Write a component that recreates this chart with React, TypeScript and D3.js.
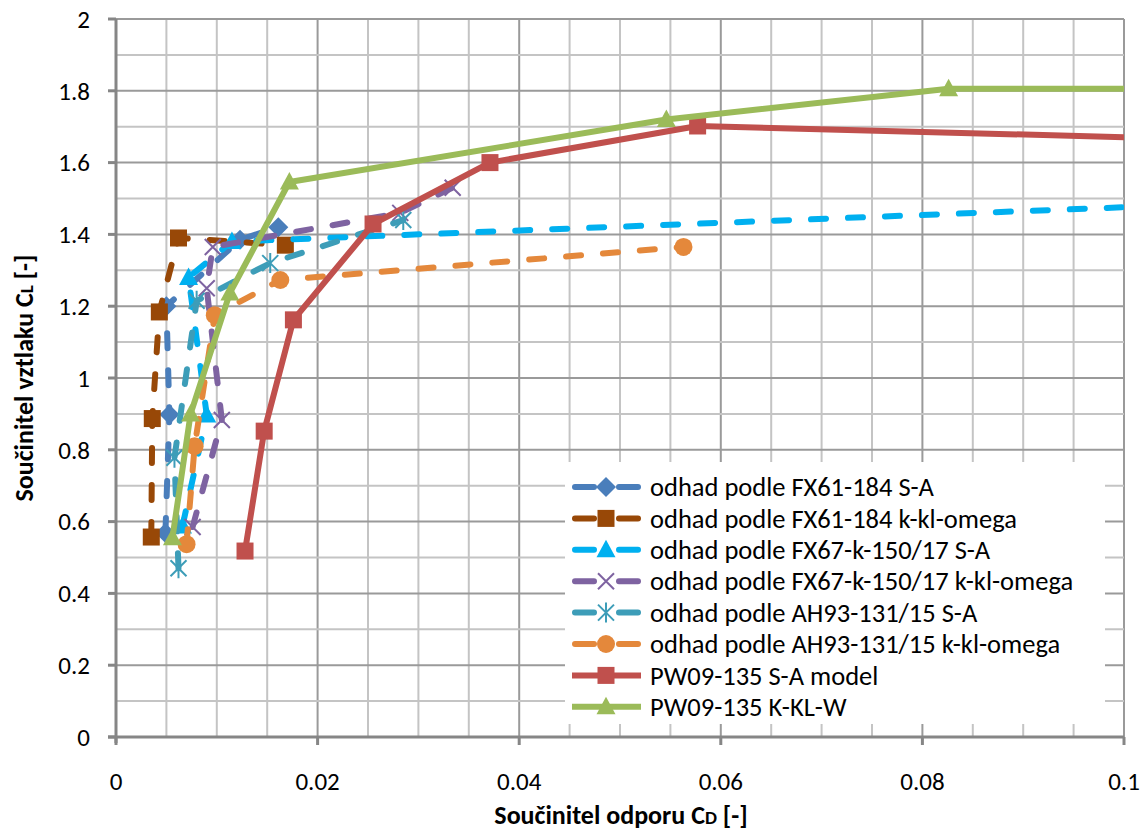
import React from "react";
import * as d3 from "d3";

// ---- data (C_D, C_L) ----
const fx61SA_cd = [0.0049, 0.0053, 0.005, 0.0123, 0.0161];
const fx61SA_cl = [0.568, 0.898, 1.2, 1.385, 1.42];

const fx61KKL_cd = [0.0035, 0.0036, 0.0043, 0.0062, 0.0168];
const fx61KKL_cl = [0.557, 0.887, 1.184, 1.39, 1.37];

const fx67SA_cd = [0.0066, 0.009, 0.0072, 0.0115, 0.104];
const fx67SA_cl = [0.588, 0.897, 1.28, 1.38, 1.48];

const fx67KKL_cd = [0.0076, 0.0105, 0.009, 0.0096, 0.0282, 0.0334];
const fx67KKL_cl = [0.585, 0.883, 1.25, 1.365, 1.46, 1.53];

const ah93SA_cd = [0.0062, 0.0058, 0.008, 0.0153, 0.0285];
const ah93SA_cl = [0.47, 0.778, 1.215, 1.32, 1.44];

const ah93KKL_cd = [0.007, 0.0078, 0.0098, 0.0163, 0.0563];
const ah93KKL_cl = [0.537, 0.81, 1.175, 1.273, 1.365];

const pwSA_cd = [0.0128, 0.0147, 0.0176, 0.0255, 0.0371, 0.0577, 0.105];
const pwSA_cl = [0.518, 0.852, 1.162, 1.429, 1.6, 1.702, 1.667];

const pwKKLW_cd = [0.0056, 0.0074, 0.0113, 0.0172, 0.0546, 0.0826, 0.11];
const pwKKLW_cl = [0.555, 0.9, 1.237, 1.546, 1.72, 1.806, 1.806];

const xTicks = [0, 0.02, 0.04, 0.06, 0.08, 0.1];
const xTickLabels = ["0", "0.02", "0.04", "0.06", "0.08", "0.1"];
const yTicks = [0, 0.2, 0.4, 0.6, 0.8, 1, 1.2, 1.4, 1.6, 1.8, 2];
const yTickLabels = ["0", "0.2", "0.4", "0.6", "0.8", "1", "1.2", "1.4", "1.6", "1.8", "2"];

type Marker = "diamond" | "square" | "triangle" | "x" | "star" | "circle";
interface Series {
  name: string;
  cd: number[];
  cl: number[];
  color: string;
  dashed: boolean;
  marker: Marker;
}

const series: Series[] = [
  { name: "odhad podle FX61-184 S-A", cd: fx61SA_cd, cl: fx61SA_cl, color: "#4A7EBB", dashed: true, marker: "diamond" },
  { name: "odhad podle FX61-184 k-kl-omega", cd: fx61KKL_cd, cl: fx61KKL_cl, color: "#984807", dashed: true, marker: "square" },
  { name: "odhad podle FX67-k-150/17 S-A", cd: fx67SA_cd, cl: fx67SA_cl, color: "#00B0F0", dashed: true, marker: "triangle" },
  { name: "odhad podle FX67-k-150/17 k-kl-omega", cd: fx67KKL_cd, cl: fx67KKL_cl, color: "#7E63A1", dashed: true, marker: "x" },
  { name: "odhad podle AH93-131/15 S-A", cd: ah93SA_cd, cl: ah93SA_cl, color: "#3D9DB8", dashed: true, marker: "star" },
  { name: "odhad podle AH93-131/15 k-kl-omega", cd: ah93KKL_cd, cl: ah93KKL_cl, color: "#E4883B", dashed: true, marker: "circle" },
  { name: "PW09-135 S-A model", cd: pwSA_cd, cl: pwSA_cl, color: "#C0504D", dashed: false, marker: "square" },
  { name: "PW09-135 K-KL-W", cd: pwKKLW_cd, cl: pwKKLW_cl, color: "#9BBB59", dashed: false, marker: "triangle" },
];

const FONT = "Carlito, Calibri, Lato, 'Open Sans', sans-serif";

function MarkerShape({ cx, cy, type, color }: { cx: number; cy: number; type: Marker; color: string }) {
  switch (type) {
    case "diamond":
      return <path d={`M${cx},${cy - 10}L${cx + 10},${cy}L${cx},${cy + 10}L${cx - 10},${cy}Z`} fill={color} />;
    case "square":
      return <rect x={cx - 8.5} y={cy - 8.5} width={17} height={17} fill={color} />;
    case "triangle":
      return <path d={`M${cx},${cy - 10}L${cx + 9.5},${cy + 7.5}L${cx - 9.5},${cy + 7.5}Z`} fill={color} />;
    case "circle":
      return <circle cx={cx} cy={cy} r={9} fill={color} />;
    case "x":
      return (
        <path d={`M${cx - 8},${cy - 8}L${cx + 8},${cy + 8}M${cx - 8},${cy + 8}L${cx + 8},${cy - 8}`} stroke={color} strokeWidth={2} fill="none" />
      );
    case "star":
      return (
        <path
          d={`M${cx - 8},${cy - 8}L${cx + 8},${cy + 8}M${cx - 8},${cy + 8}L${cx + 8},${cy - 8}M${cx},${cy - 10}L${cx},${cy + 10}`}
          stroke={color}
          strokeWidth={2}
          fill="none"
        />
      );
  }
  return null;
}

export default function App() {
  const W = 1147;
  const H = 832;
  const x = d3.scaleLinear().domain([0, 0.1]).range([116, 1124]);
  const y = d3.scaleLinear().domain([0, 2]).range([737, 19]);
  const line = d3
    .line<[number, number]>()
    .x((d) => x(d[0]))
    .y((d) => y(d[1]));

  const minorX = d3.range(0, 0.1001, 0.005);
  const minorY = d3.range(0, 2.001, 0.1);

  const legX = 572;
  const legY0 = 487;
  const legDy = 31.4;

  return (
    <div style={{ position: "absolute", left: 0, top: 0 }}>
      <svg width={W} height={H} style={{ display: "block", background: "#fff" }} fontFamily={FONT}>
        <defs>
          <clipPath id="plotClip">
            <rect x={x(0)} y={y(2) - 12} width={x(0.1) - x(0)} height={y(0) - y(2) + 12} />
          </clipPath>
        </defs>
        {/* grid */}
        {minorX.map((v, i) => (
          <line key={"mx" + i} x1={x(v)} x2={x(v)} y1={y(0)} y2={y(2)} stroke={i % 4 === 0 ? "#9A9A9A" : "#C4C4C4"} strokeWidth={2} />
        ))}
        {minorY.map((v, i) => (
          <line key={"my" + i} x1={x(0)} x2={x(0.1)} y1={y(v)} y2={y(v)} stroke={i % 2 === 0 ? "#9A9A9A" : "#C4C4C4"} strokeWidth={2} />
        ))}
        {/* axes */}
        <line x1={x(0)} x2={x(0)} y1={y(0) + 6} y2={y(2)} stroke="#868686" strokeWidth={3} />
        <line x1={x(0) - 8} x2={x(0.1)} y1={y(0)} y2={y(0)} stroke="#868686" strokeWidth={3} />
        {yTicks.map((v, i) => (
          <line key={"yt" + i} x1={x(0) - 8} x2={x(0)} y1={y(v)} y2={y(v)} stroke="#868686" strokeWidth={3} />
        ))}
        {xTicks.map((v, i) => (
          <line key={"xt" + i} x1={x(v)} x2={x(v)} y1={y(0)} y2={y(0) + 8} stroke="#868686" strokeWidth={3} />
        ))}
        {/* tick labels */}
        {yTicks.map((v, i) => (
          <text key={"yl" + i} x={90} y={y(v)} dy="0.35em" textAnchor="end" fontSize={25} fill="#000">
            {yTickLabels[i]}
          </text>
        ))}
        {xTicks.map((v, i) => (
          <text key={"xl" + i} x={x(v)} y={781} dy="0.35em" textAnchor="middle" fontSize={25} fill="#000">
            {xTickLabels[i]}
          </text>
        ))}
        {/* axis titles */}
        <text x={621} y={815} dy="0.35em" textAnchor="middle" fontSize={26} fontWeight="bold" fill="#000">
          Součinitel odporu C<tspan fontSize={19}>D</tspan> [-]
        </text>
        <text
          transform={`translate(24,378) rotate(-90)`}
          dy="0.35em"
          textAnchor="middle"
          fontSize={26}
          fontWeight="bold"
          fill="#000"
        >
          Součinitel vztlaku C<tspan fontSize={19}>L</tspan> [-]
        </text>

        {/* series */}
        <g clipPath="url(#plotClip)">
          {series.map((s, si) => {
            const pts: [number, number][] = s.cd.map((c, i) => [c, s.cl[i]]);
            return (
              <g key={"s" + si}>
                <path
                  d={line(pts) || ""}
                  fill="none"
                  stroke={s.color}
                  strokeWidth={6}
                  strokeLinecap={s.dashed ? "round" : "butt"}
                  strokeLinejoin="round"
                  strokeDasharray={s.dashed ? "15 22" : undefined}
                />
                {pts
                  .filter((p) => p[0] <= 0.1)
                  .map((p, i) => (
                    <MarkerShape key={i} cx={x(p[0])} cy={y(p[1])} type={s.marker} color={s.color} />
                  ))}
              </g>
            );
          })}
        </g>

        {/* legend */}
        <rect x={565} y={462} width={540} height={262} fill="#fff" />
        {series.map((s, i) => {
          const cy = legY0 + i * legDy;
          return (
            <g key={"lg" + i}>
              {s.dashed ? (
                <g stroke={s.color} strokeWidth={6} strokeLinecap="round">
                  <line x1={legX + 3} x2={legX + 22} y1={cy} y2={cy} />
                  <line x1={legX + 47} x2={legX + 66} y1={cy} y2={cy} />
                </g>
              ) : (
                <line x1={legX} x2={legX + 69} y1={cy} y2={cy} stroke={s.color} strokeWidth={6} />
              )}
              <MarkerShape cx={legX + 34} cy={cy} type={s.marker} color={s.color} />
              <text x={650} y={cy} dy="0.35em" fontSize={26.5} fill="#000">
                {s.name}
              </text>
            </g>
          );
        })}
      </svg>
    </div>
  );
}
